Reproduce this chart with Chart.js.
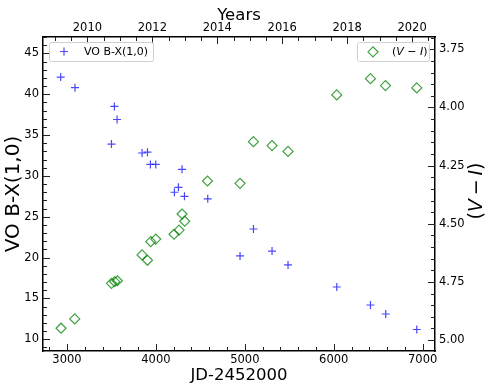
<!DOCTYPE html>
<html>
<head>
<meta charset="utf-8">
<script src="https://cdn.jsdelivr.net/npm/chart.js@4.4.1/dist/chart.umd.min.js"></script>
<style>
  html, body { margin: 0; padding: 0; background: #fff; }
  #wrap { width: 491px; height: 392px; }
</style>
</head>
<body>
<div id="wrap"><canvas id="chart"></canvas></div>
<script>
// VO B-X(1,0) band strength
const voJd = [2929, 3090, 3500, 3533, 3563, 3844, 3905, 3938, 3998, 4208, 4253, 4294, 4321, 4583, 4946, 5097, 5306, 5486, 6034, 6413, 6585, 6934];
const voVal = [42.1, 40.8, 33.9, 38.5, 36.9, 32.8, 32.9, 31.4, 31.4, 28.0, 28.6, 30.8, 27.5, 27.2, 20.2, 23.5, 20.8, 19.1, 16.4, 14.2, 13.1, 11.2];

// (V - I) colour
const viJd = [2933, 3087, 3500, 3537, 3567, 3844, 3905, 3942, 3998, 4204, 4260, 4294, 4324, 4580, 4946, 5097, 5306, 5486, 6034, 6413, 6582, 6934];
const viVal = [4.949, 4.909, 4.756, 4.749, 4.745, 4.634, 4.657, 4.577, 4.566, 4.545, 4.527, 4.458, 4.489, 4.316, 4.326, 4.147, 4.164, 4.189, 3.946, 3.876, 3.906, 3.916];

const jdTicks = [3000, 4000, 5000, 6000, 7000];
const voTicks = [10, 15, 20, 25, 30, 35, 40, 45];
const viTicks = [3.75, 4.00, 4.25, 4.50, 4.75, 5.00];
const yearTicks = [2010, 2012, 2014, 2016, 2018, 2020];

const xMin = 2730, xMax = 7139;
const yearOf = (d) => 2001.159 + d / 365.25;

const FONT = '"DejaVu Sans", "Liberation Sans", sans-serif';
const tickFont = { family: FONT, size: 11.5 };

function fixed(size, horiz) {
  return (scale) => {
    if (horiz) scale.height = size; else scale.width = size;
  };
}
function onlyTicks(values) {
  return (scale) => { scale.ticks = values.map((v) => ({ value: v })); };
}

// inward major/minor ticks, like the original figure
const tickMarks = {
  id: 'tickMarks',
  afterDraw(chart) {
    const { ctx, chartArea: a, scales } = chart;
    ctx.save();
    ctx.strokeStyle = '#222';
    ctx.lineWidth = 1;
    const mark = (scale, step, majors, side) => {
      const lo = Math.ceil(Math.min(scale.min, scale.max) / step - 1e-6);
      const hi = Math.floor(Math.max(scale.min, scale.max) / step + 1e-6);
      for (let n = lo; n <= hi; n++) {
        const v = n * step;
        const major = majors.some((m) => Math.abs(m - v) < step / 10);
        const len = major ? 7 : 4;
        const p = Math.round(scale.getPixelForValue(v)) + 0.5;
        ctx.beginPath();
        if (side === 'bottom') { ctx.moveTo(p, a.bottom); ctx.lineTo(p, a.bottom - len); }
        if (side === 'top') { ctx.moveTo(p, a.top); ctx.lineTo(p, a.top + len); }
        if (side === 'left') { ctx.moveTo(a.left, p); ctx.lineTo(a.left + len, p); }
        if (side === 'right') { ctx.moveTo(a.right, p); ctx.lineTo(a.right - len, p); }
        ctx.stroke();
      }
    };
    mark(scales.x, 200, jdTicks, 'bottom');
    mark(scales.xTop, 0.5, yearTicks, 'top');
    mark(scales.y, 1, voTicks, 'left');
    mark(scales.y2, 0.05, viTicks, 'right');
    ctx.restore();
  }
};

function drawPieces(ctx, pieces, size, x, y) {
  pieces.forEach(([txt, italic]) => {
    ctx.font = (italic ? 'italic ' : '') + size + 'px ' + FONT;
    ctx.fillText(txt, x, y);
    x += ctx.measureText(txt).width;
  });
}

const viLabel = [['(', false], ['V', true], ['\u2009\u2212\u2009', false], ['I', true], [')', false]];

// two separate legend boxes plus the right-hand axis title
const extras = {
  id: 'extras',
  afterDraw(chart) {
    const ctx = chart.ctx;
    const a = chart.chartArea;
    ctx.save();
    const box = (x0, y0, x1, y1) => {
      ctx.beginPath();
      ctx.roundRect(x0 + 0.5, y0 + 0.5, x1 - x0, y1 - y0, 2);
      ctx.fillStyle = 'rgba(255,255,255,0.8)';
      ctx.fill();
      ctx.strokeStyle = '#d0d0d0';
      ctx.lineWidth = 1;
      ctx.stroke();
    };
    box(49, 42, 153, 61);
    box(357, 42, 429, 61);

    const blue = chart.data.datasets[0];
    const green = chart.data.datasets[1];
    ctx.strokeStyle = blue.borderColor;
    ctx.lineWidth = blue.borderWidth;
    Chart.helpers.drawPoint(ctx, { pointStyle: 'cross', radius: blue.pointRadius, borderWidth: blue.borderWidth }, 64, 51.5);
    ctx.strokeStyle = green.borderColor;
    ctx.fillStyle = 'rgba(0,0,0,0)';
    ctx.lineWidth = green.borderWidth;
    Chart.helpers.drawPoint(ctx, { pointStyle: 'rectRot', radius: green.pointRadius, borderWidth: green.borderWidth }, 373, 51.8);

    ctx.fillStyle = '#000';
    ctx.textBaseline = 'middle';
    ctx.textAlign = 'left';
    drawPieces(ctx, [['VO B-X(1,0)', false]], 11, 84, 52);
    drawPieces(ctx, [['(', false], ['V', true], [' \u2212 ', false], ['I', true], [')', false]], 11, 392, 52);

    // right axis title reads bottom to top
    ctx.translate(477, (a.top + a.bottom) / 2 - 3);
    ctx.rotate(-Math.PI / 2);
    let w = 0;
    viLabel.forEach(([t, it]) => { ctx.font = (it ? 'italic ' : '') + '19px ' + FONT; w += ctx.measureText(t).width; });
    drawPieces(ctx, viLabel, 19, -w / 2, 0);
    ctx.restore();
  }
};

const axisBase = {
  type: 'linear',
  grid: { display: false, drawTicks: false, tickLength: 0 },
  border: { display: true, color: '#000', width: 1.5 }
};

new Chart(document.getElementById('chart'), {
  type: 'scatter',
  data: {
    datasets: [
      {
        label: 'VO B-X(1,0)',
        data: voJd.map((d, i) => ({ x: d, y: voVal[i] })),
        xAxisID: 'x',
        yAxisID: 'y',
        pointStyle: 'cross',
        pointRadius: 4,
        borderWidth: 1.2,
        borderColor: 'rgba(0,0,255,0.72)',
        backgroundColor: 'rgba(0,0,255,0.72)'
      },
      {
        label: '(V-I)',
        data: viJd.map((d, i) => ({ x: d, y: viVal[i] })),
        xAxisID: 'x',
        yAxisID: 'y2',
        pointStyle: 'rectRot',
        pointRadius: 5,
        borderWidth: 1.2,
        borderColor: 'rgba(0,128,0,0.75)',
        backgroundColor: 'rgba(0,0,0,0)'
      }
    ]
  },
  options: {
    responsive: true,
    maintainAspectRatio: false,
    animation: false,
    devicePixelRatio: 1,
    layout: { padding: 0 },
    plugins: { legend: { display: false }, tooltip: { enabled: false } },
    scales: {
      x: {
        ...axisBase, position: 'bottom', min: xMin, max: xMax,
        afterBuildTicks: onlyTicks(jdTicks),
        afterFit: fixed(41, true),
        ticks: { font: tickFont, color: '#000', padding: 2, maxRotation: 0, callback: (v) => String(v) },
        title: { display: true, text: 'JD-2452000', color: '#000', font: { family: FONT, size: 16.5 }, padding: { top: 0, bottom: 6 } }
      },
      xTop: {
        ...axisBase, position: 'top', min: yearOf(xMin), max: yearOf(xMax),
        afterBuildTicks: onlyTicks(yearTicks),
        afterFit: fixed(37, true),
        ticks: { font: tickFont, color: '#000', padding: 2, maxRotation: 0, callback: (v) => String(v) },
        title: { display: true, text: 'Years', color: '#000', font: { family: FONT, size: 16.5 }, padding: { top: 6, bottom: 0 } }
      },
      y: {
        ...axisBase, position: 'left', min: 8.57, max: 47.0,
        afterBuildTicks: onlyTicks(voTicks),
        afterFit: fixed(43, false),
        ticks: { font: tickFont, color: '#000', padding: 4, callback: (v) => String(v) },
        title: { display: true, text: 'VO B-X(1,0)', color: '#000', font: { family: FONT, size: 20 }, padding: { top: 2, bottom: 0 } }
      },
      y2: {
        ...axisBase, position: 'right', reverse: true, min: 3.697, max: 5.047,
        afterBuildTicks: onlyTicks(viTicks),
        afterFit: fixed(56, false),
        ticks: { font: tickFont, color: '#000', padding: 4, callback: (v) => v.toFixed(2) }
      }
    }
  },
  plugins: [tickMarks, extras]
});
</script>
</body>
</html>
